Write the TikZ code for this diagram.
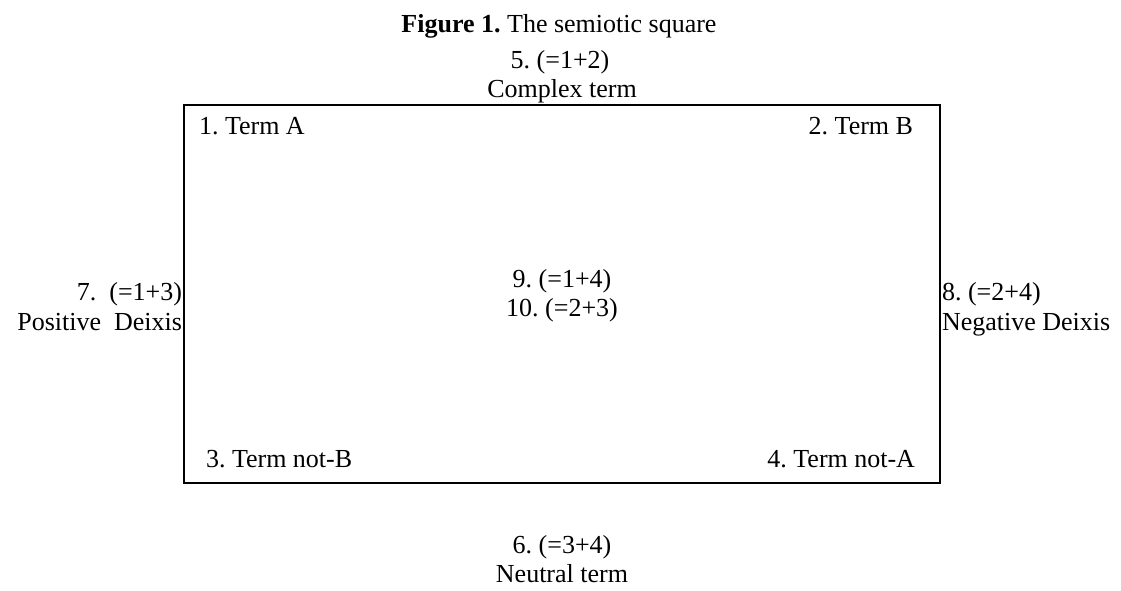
\documentclass[tikz,border=0pt]{standalone}
\usepackage{fontspec}
\setmainfont{Liberation Serif}
\frenchspacing
\begin{document}
\begin{tikzpicture}[x=1pt,y=-1pt,
  lbl/.style={inner sep=0pt,outer sep=0pt,font=\fontsize{26}{30}\selectfont},
  frame/.style={draw=black,line width=2pt}]
\useasboundingbox (0,0) rectangle (1121,590);
\draw[frame] (184,105) rectangle (940,483);
% top
\node[lbl,anchor=base] (cap) at (559,32) {\textbf{Figure 1.} The semiotic square};
\node[lbl,anchor=base] (t5) at (560,68) {5. (=1+2)};
\node[lbl,anchor=base] (t5b) at (562,97) {Complex term};
% corners
\node[lbl,anchor=base west] (t1) at (199,134) {1. Term A};
\node[lbl,anchor=base east] (t2) at (913,134) {2. Term B};
\node[lbl,anchor=base west] (t3) at (206,467) {3. Term not-B};
\node[lbl,anchor=base east] (t4) at (915,467) {4. Term not-A};
% sides
\node[lbl,anchor=base east] (t7) at (182,300) {7.\ \ (=1+3)};
\node[lbl,anchor=base east] (t7b) at (182,330) {Positive\ \ Deixis};
\node[lbl,anchor=base west] (t8) at (942,300) {8. (=2+4)};
\node[lbl,anchor=base west] (t8b) at (942,330) {Negative Deixis};
% center
\node[lbl,anchor=base] (t9) at (562,287) {9. (=1+4)};
\node[lbl,anchor=base] (t10) at (562,316) {10. (=2+3)};
% bottom
\node[lbl,anchor=base] (t6) at (562,553) {6. (=3+4)};
\node[lbl,anchor=base] (t6b) at (562,582) {Neutral term};
\end{tikzpicture}
\end{document}
